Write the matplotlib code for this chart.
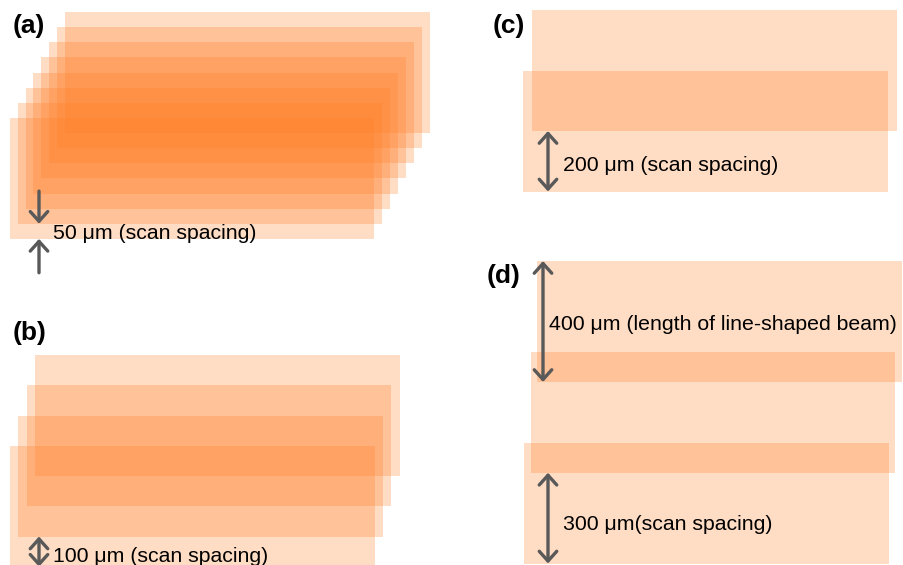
import matplotlib.pyplot as plt
from matplotlib.patches import Rectangle, FancyArrowPatch

# beam geometry and scan settings (µm)
beam_length = 400
beam_width = 1205
scan_spacing = [50, 100, 200, 300]
n_scans = [8, 4, 2, 3]
panel_labels = ['(a)', '(b)', '(c)', '(d)']
spacing_labels = ['50 μm (scan spacing)', '100 μm (scan spacing)',
                  '200 μm (scan spacing)', '300 μm(scan spacing)']
length_label = '400 μm (length of line-shaped beam)'

# layout: pixels per µm, top-left of the first beam in each panel (px),
# sideways shift between scans (px)
s = 0.3025
origins = [(65, 12), (35, 355), (532, 10), (537, 261)]
shifts = [7.9, 8.3, 9.0, 6.5]
arrow_x = [39, 39, 548, 548]
label_x = [53, 53, 563, 563]
label_dy = [0, 0, 10, 12]
letter_pos = [(13, 33), (13, 340), (493, 33), (487, 283)]

plt.rcParams['font.family'] = ['Liberation Sans', 'DejaVu Sans']

W, H = 904, 565
fig = plt.figure(figsize=(W / 100, H / 100), dpi=100)
ax = fig.add_axes([0, 0, 1, 1])
ax.set_xlim(0, W / s)
ax.set_ylim(H / s, 0)
ax.axis('off')

grey = '#595959'
fs = 15.3


def px(v):
    return v / s


def arrow(x, y0, y1, style):
    ax.add_patch(FancyArrowPatch((x, y0), (x, y1), arrowstyle=style,
                                 mutation_scale=14, lw=2.4, color=grey,
                                 shrinkA=0, shrinkB=0, zorder=5))


for i in range(4):
    ox, oy = px(origins[i][0]), px(origins[i][1])
    dx = px(shifts[i])
    sp = scan_spacing[i]
    for k in range(n_scans[i]):
        ax.add_patch(Rectangle((ox - k * dx, oy + k * sp), beam_width, beam_length,
                               facecolor='#FF7F27', alpha=0.27, lw=0, zorder=1))
    lx, ly = letter_pos[i]
    ax.text(px(lx), px(ly), panel_labels[i], fontsize=19, fontweight='bold',
            ha='left', va='baseline', zorder=6)

    ax_x = px(arrow_x[i])
    n = n_scans[i]
    # bottoms of the last two scans bound the spacing
    b1 = oy + (n - 2) * sp + beam_length
    b2 = oy + (n - 1) * sp + beam_length
    if i == 0:
        arrow(ax_x, b1 - 108, b1, '->,head_length=0.5,head_width=0.45')
        arrow(ax_x, b2 + 112, b2, '->,head_length=0.5,head_width=0.45')
        ty = b2
    elif i == 1:
        arrow(ax_x, b1, b2, '<->,head_length=0.5,head_width=0.45')
        ty = b1 + px(25)
    else:
        arrow(ax_x, b1, b2, '<->,head_length=0.5,head_width=0.45')
        ty = (b1 + b2) / 2 + px(label_dy[i])
    ax.text(px(label_x[i]), ty, spacing_labels[i], fontsize=fs,
            ha='left', va='baseline', zorder=6)

    if i == 3:
        arrow(px(543), oy, oy + beam_length, '<->,head_length=0.5,head_width=0.45')
        ax.text(px(549), oy + beam_length / 2 + px(8), length_label, fontsize=fs,
                ha='left', va='baseline', zorder=6)

fig.savefig('out.png', dpi=100)
